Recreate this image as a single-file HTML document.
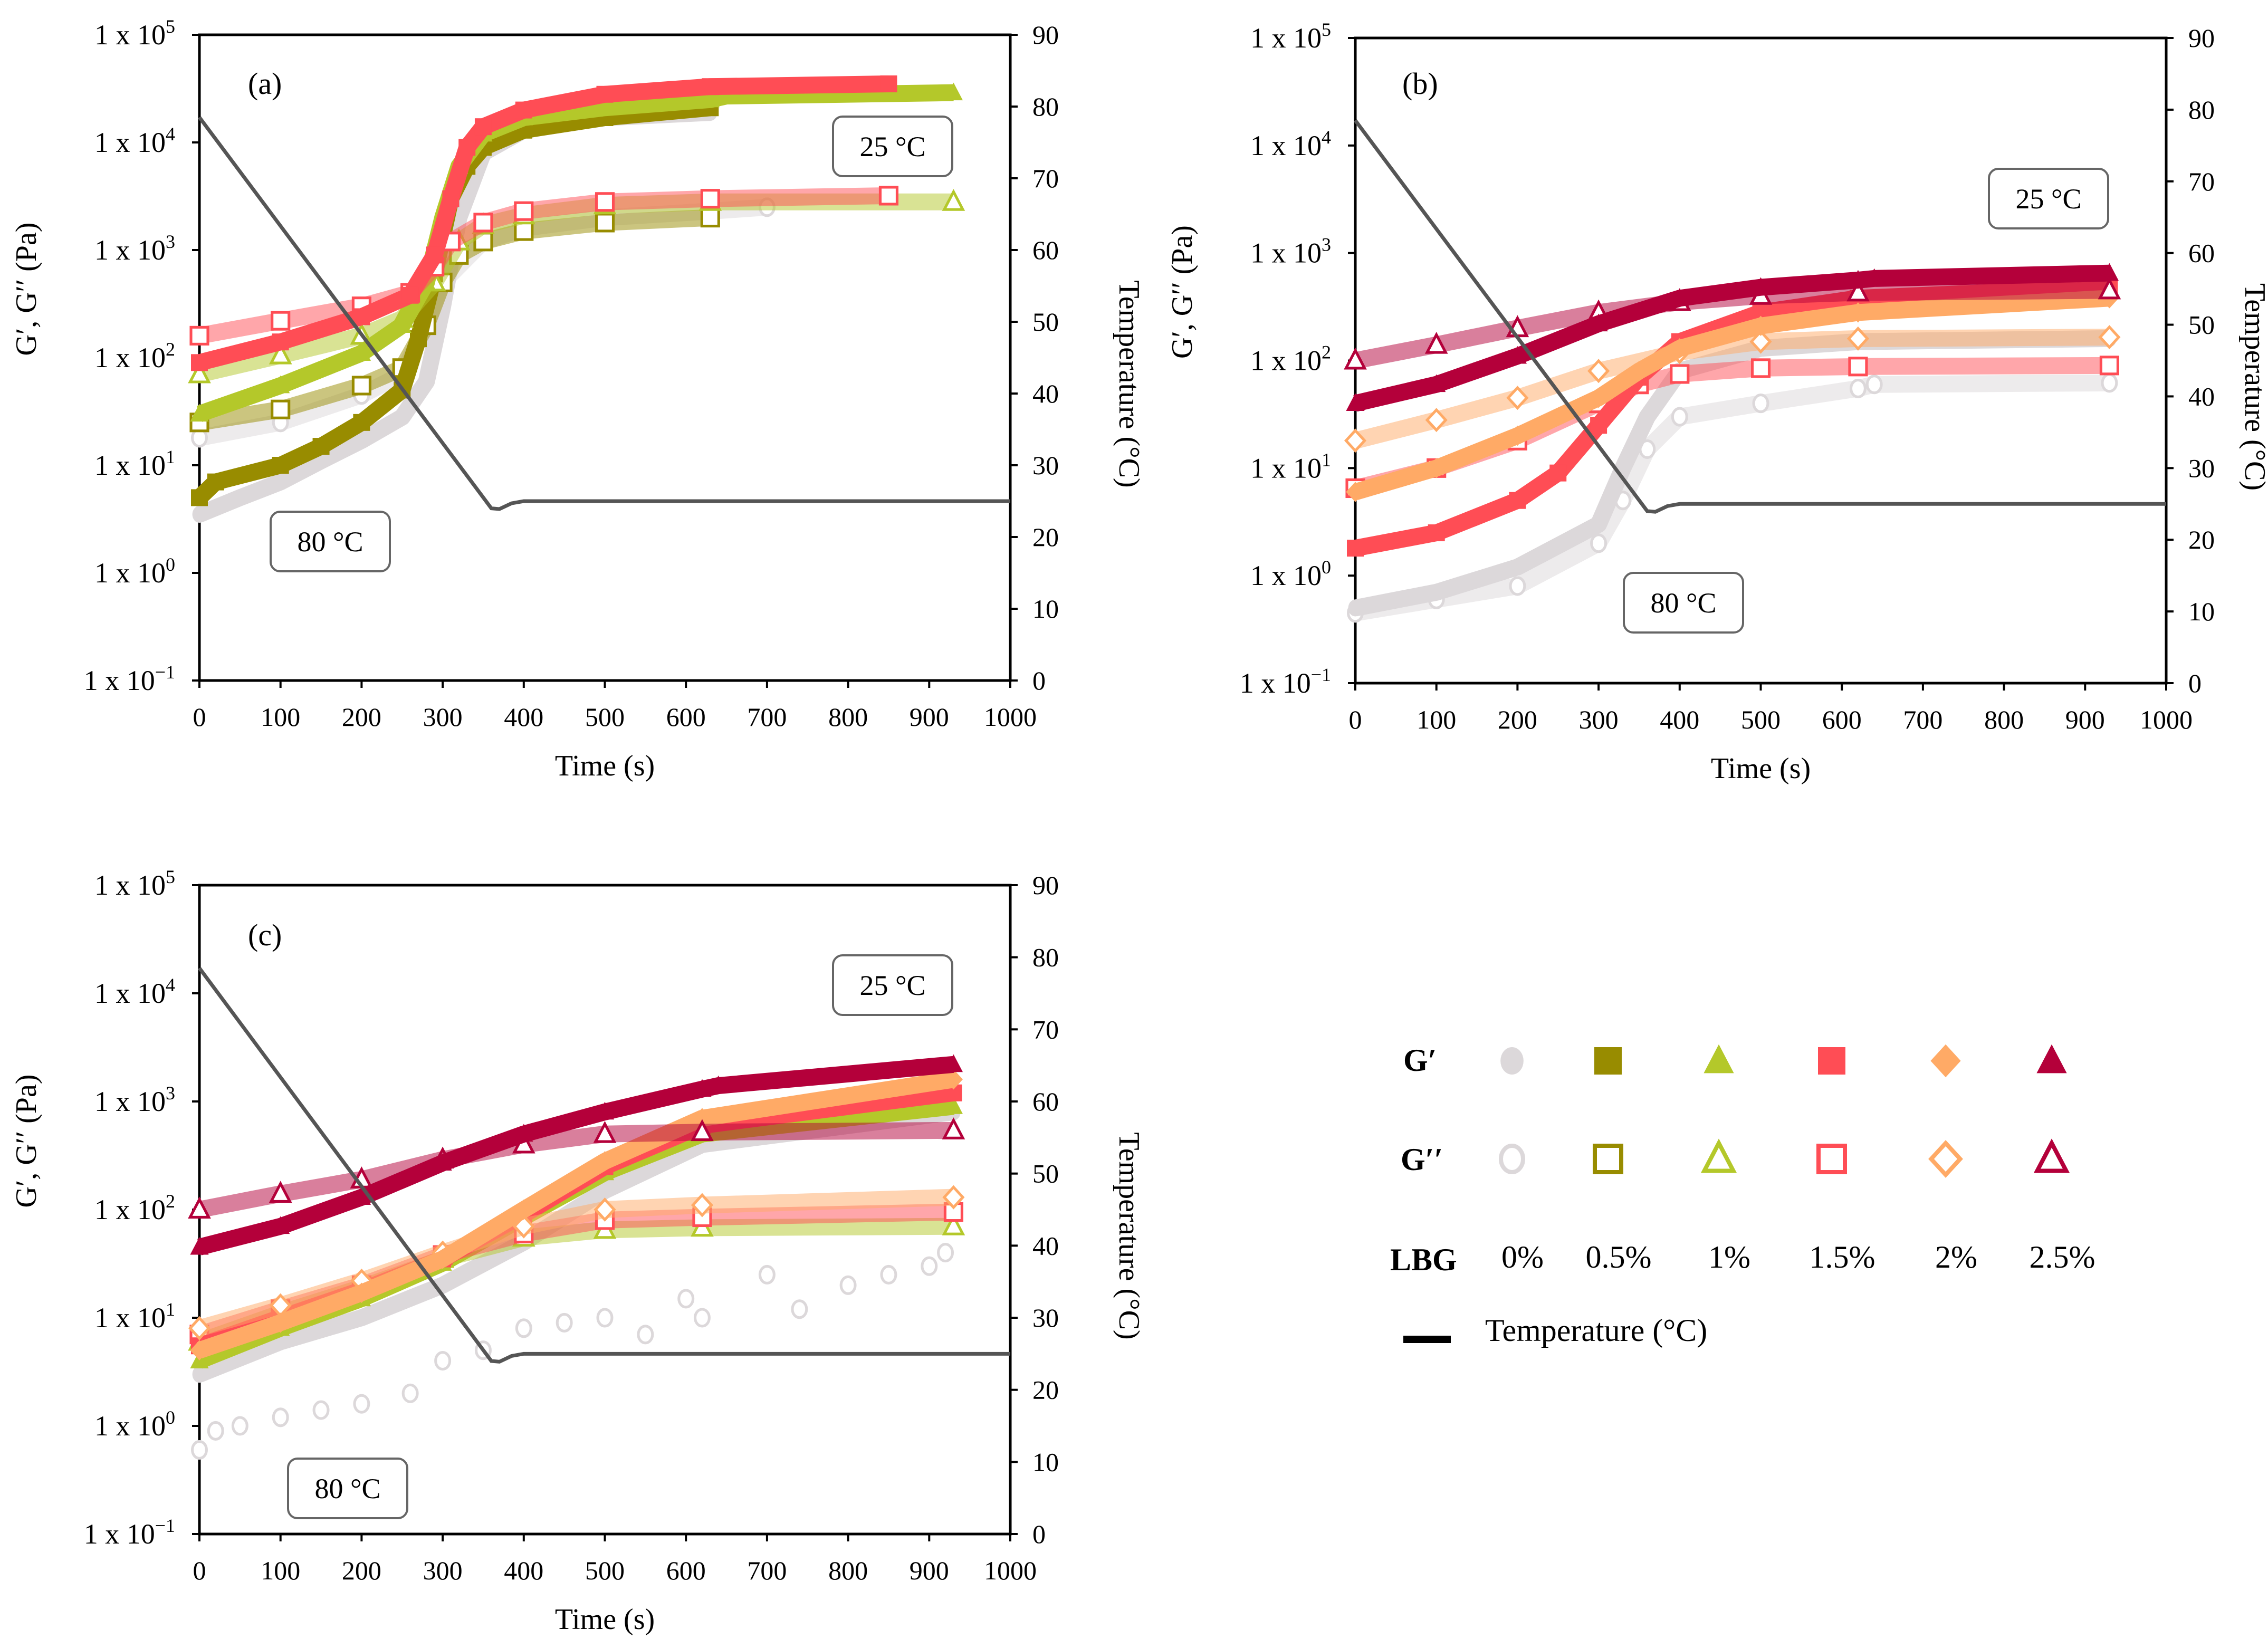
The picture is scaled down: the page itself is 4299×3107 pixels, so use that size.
<!DOCTYPE html>
<html><head><meta charset="utf-8">
<style>
html,body{margin:0;padding:0;background:#fff;}
svg{display:block;font-family:"Liberation Serif",serif;}
</style></head>
<body>
<svg id="fig" width="4299" height="3107" viewBox="0 0 4299 3107" xmlns="http://www.w3.org/2000/svg">
<rect x="0" y="0" width="4299" height="3107" fill="#fff"/>
<g id="legend"></g>
</svg>
<script>
// ---- shared data ----
const xTicks = [0,100,200,300,400,500,600,700,800,900,1000];
const yExps = [-1,0,1,2,3,4,5];
const tTicks = [0,10,20,30,40,50,60,70,80,90];
const tempTime = [0,360,370,385,400,1000];
const tempVal = [78.5,24,23.9,24.7,25,25];

// ---- panel (a) ----
const aTime_0G1 = [0,50,100,150,200,250,280,300,320,350,400,500,630];
const aVal_0G1 = [3.5,5,7,11,17,28,60,300,2000,8000,13000,17000,19000];
const aTime_0G2 = [0,100,200,250,280,300,350,400,500,630,700];
const aVal_0G2 = [18,25,45,70,200,500,1200,1600,2000,2300,2500];
const aTime_05G1 = [0,20,100,150,200,250,270,290,310,330,350,400,500,630];
const aVal_05G1 = [5,7,10,15,25,50,150,600,3000,6000,9000,13000,17000,21000];
const aTime_05G2 = [0,100,200,250,280,300,320,350,400,500,630];
const aVal_05G2 = [25,33,55,80,200,500,900,1200,1500,1800,2000];
const aTime_1G1 = [0,100,200,250,280,300,320,350,400,500,630,650,930];
const aVal_1G1 = [30,55,110,200,500,2000,6000,12000,17000,21000,25000,27000,29000];
const aTime_1G2 = [0,100,200,250,290,320,350,400,500,630,930];
const aVal_1G2 = [70,105,160,230,500,1200,1700,2100,2600,2800,2800];
const aTime_15G1 = [0,100,200,260,290,310,330,350,400,500,630,850];
const aVal_15G1 = [90,140,240,380,900,3000,9000,14000,20000,28000,33000,35000];
const aTime_15G2 = [0,100,200,260,290,310,350,400,500,630,850];
const aVal_15G2 = [160,220,300,400,700,1200,1800,2300,2800,3000,3200];

// ---- panel (b) ----
const bTime_0G1 = [0,100,200,300,330,360,400,500,620,930];
const bVal_0G1 = [0.5,0.7,1.2,3,10,30,80,130,150,160];
const bTime_0G2 = [0,100,200,300,330,360,400,500,620,640,930];
const bVal_0G2 = [0.45,0.6,0.8,2,5,15,30,40,55,60,62];
const bTime_15G1 = [0,100,200,250,300,350,400,500,620,930];
const bVal_15G1 = [1.8,2.5,5,9,25,70,150,280,380,480];
const bTime_15G2 = [0,100,200,300,350,400,500,620,930];
const bVal_15G2 = [6.5,10,18,40,60,75,85,88,90];
const bTime_2G1 = [0,100,200,300,350,400,500,620,930];
const bVal_2G1 = [6,10,20,45,80,130,210,280,380];
const bTime_2G2 = [0,100,200,300,400,500,620,930];
const bVal_2G2 = [18,28,45,80,120,150,160,165];
const bTime_25G1 = [0,100,200,300,400,500,620,640,930];
const bVal_25G1 = [40,60,110,220,380,480,560,580,650];
const bTime_25G2 = [0,100,200,300,400,500,620,930];
const bVal_25G2 = [100,140,200,280,350,400,430,450];

// ---- panel (c) ----
const cTime_0G1 = [0,100,200,300,400,500,620,930];
const cVal_0G1 = [3,6,10,20,50,150,400,800];
const cTime_0G2 = [0,20,50,100,150,200,260,300,350,400,450,500,550,600,620,700,740,800,850,900,920];
const cVal_0G2 = [0.6,0.9,1,1.2,1.4,1.6,2,4,5,8,9,10,7,15,10,25,12,20,25,30,40];
const cTime_1G1 = [0,100,200,300,400,500,620,930];
const cVal_1G1 = [4,8,15,32,85,220,500,900];
const cTime_1G2 = [0,100,200,300,400,500,620,930];
const cVal_1G2 = [6,11,19,35,55,65,68,70];
const cTime_15G1 = [0,100,200,300,400,500,620,930];
const cVal_15G1 = [5.5,10,18,35,90,250,600,1200];
const cTime_15G2 = [0,100,200,300,400,500,620,930];
const cVal_15G2 = [7,12,20,38,60,80,85,95];
const cTime_2G1 = [0,100,200,300,400,500,620,930];
const cVal_2G1 = [5,9,17,35,100,280,700,1600];
const cTime_2G2 = [0,100,200,300,400,500,620,930];
const cVal_2G2 = [8,13,22,40,70,100,110,130];
const cTime_25G1 = [0,100,200,300,400,500,620,640,930];
const cVal_25G1 = [45,70,130,270,500,800,1300,1400,2200];
const cTime_25G2 = [0,100,200,300,400,500,620,930];
const cVal_25G2 = [100,140,190,290,400,500,520,540];

const legendLabels = ["0%","0.5%","1%","1.5%","2%","2.5%"];

const COL = {c0:"#dcd8da", c05:"#988c00", c1:"#b4c82a", c15:"#ff4d55", c2:"#ffaa66", c25:"#b4003a"};
const SVGNS="http://www.w3.org/2000/svg";
const svg=document.getElementById('fig');
function mk(tag,attrs,parent){const e=document.createElementNS(SVGNS,tag);for(const k in attrs)e.setAttribute(k,attrs[k]);(parent||svg).appendChild(e);return e;}

function marker(g,shape,filled,color,x,y,s){
  const fill=filled?color:"#fff", sw=filled?0:s*0.16;
  let e;
  if(shape==="circle") e=mk('ellipse',{cx:x,cy:y,rx:s*0.42,ry:s*0.5,fill:fill,stroke:color,'stroke-width':sw},g);
  else if(shape==="square") e=mk('rect',{x:x-s*0.5,y:y-s*0.5,width:s,height:s,fill:fill,stroke:color,'stroke-width':sw},g);
  else if(shape==="tri") e=mk('polygon',{points:`${x},${y-s*0.6} ${x+s*0.55},${y+s*0.45} ${x-s*0.55},${y+s*0.45}`,fill:fill,stroke:color,'stroke-width':sw},g);
  else e=mk('polygon',{points:`${x},${y-s*0.6} ${x+s*0.55},${y} ${x},${y+s*0.6} ${x-s*0.55},${y}`,fill:fill,stroke:color,'stroke-width':sw},g);
  
  
  return e;
}

function panel(id,P,series,labels){
  const g=mk('g',{});
  
  
  const xs=t=>P.L+(t/1000)*(P.R-P.L);
  const ys=v=>P.B-((Math.log10(v)+1)/6)*(P.B-P.T);
  const yt=v=>P.B-(v/90)*(P.B-P.T);
  const ax=mk('rect',{x:P.L,y:P.T,width:P.R-P.L,height:P.B-P.T,fill:"none",stroke:"#000","stroke-width":5},g);
  
  xTicks.forEach(t=>{
    mk('line',{x1:xs(t),x2:xs(t),y1:P.B,y2:P.B+14,stroke:"#000","stroke-width":4},g);
    const tx=mk('text',{x:xs(t),y:P.B+86,'font-size':50,'text-anchor':'middle'},g);tx.textContent=t;
    
  });
  yExps.forEach(e=>{
    const y=ys(Math.pow(10,e));
    mk('line',{x1:P.L-14,x2:P.L,y1:y,y2:y,stroke:"#000","stroke-width":4},g);
    const tx=mk('text',{x:P.L-46,y:y+18,'font-size':54,'text-anchor':'end'},g);
    tx.innerHTML='1 x 10<tspan dy="-22" font-size="36">'+(e<0?'\u2212'+(-e):e)+'</tspan>';
    
  });
  tTicks.forEach(v=>{
    const y=yt(v);
    mk('line',{x1:P.R,x2:P.R+14,y1:y,y2:y,stroke:"#000","stroke-width":4},g);
    const tx=mk('text',{x:P.R+42,y:y+17,'font-size':50},g);tx.textContent=v;
    
  });
  let t=mk('text',{x:(P.L+P.R)/2,y:P.B+180,'font-size':56,'text-anchor':'middle'},g);t.textContent='Time (s)';
  
  t=mk('text',{x:0,y:0,'font-size':56,'text-anchor':'middle',transform:`translate(${P.L-310},${(P.T+P.B)/2-130}) rotate(-90)`},g);t.textContent='G\u2032, G\u2032\u2032 (Pa)';
  
  t=mk('text',{x:0,y:0,'font-size':56,'text-anchor':'middle',transform:`translate(${P.R+labels.tOff},${(P.T+P.B)/2+50}) rotate(90)`},g);t.textContent='Temperature (\u00b0C)';
  
  series.forEach(s=>{
    const sg=mk('g',{},g);
    
    const pts=s.t.map((tt,i)=>xs(tt)+','+ys(s.v[i])).join(' ');
    if(!s.scatter){
      const pl=mk('polyline',{points:pts,fill:'none',stroke:s.color,'stroke-width':32,'stroke-linejoin':'round','stroke-opacity':s.filled?1:0.5},sg);
      
    }
    s.t.forEach((tt,i)=>marker(sg,s.shape,s.filled,s.color,xs(tt),ys(s.v[i]),32));
  });
  const tl=mk('polyline',{points:tempTime.map((tt,i)=>xs(tt)+','+yt(tempVal[i])).join(' '),fill:'none',stroke:'#555','stroke-width':7},g);
  
  t=mk('text',{x:labels.lx,y:labels.ly,'font-size':58},g);t.textContent='('+id+')';
  
  [[labels.b25,'25 \u00b0C','box-25c'],[labels.b80,'80 \u00b0C','box-80c']].forEach(b=>{
    const bx=b[0][0], by=b[0][1];
    const r=mk('rect',{x:bx,y:by,width:226,height:113,rx:18,fill:'#fff',stroke:'#666','stroke-width':4},g);
    
    const tx=mk('text',{x:bx+113,y:by+75,'font-size':54,'text-anchor':'middle'},g);tx.textContent=b[1];
    
  });
}

panel('a',{L:378,R:1915,T:66,B:1290},[
 {name:'0-g2',t:aTime_0G2,v:aVal_0G2,shape:'circle',filled:false,color:COL.c0},
 {name:'0-g1',t:aTime_0G1,v:aVal_0G1,shape:'circle',filled:true,color:COL.c0},
 {name:'05-g2',t:aTime_05G2,v:aVal_05G2,shape:'square',filled:false,color:COL.c05},
 {name:'05-g1',t:aTime_05G1,v:aVal_05G1,shape:'square',filled:true,color:COL.c05},
 {name:'1-g2',t:aTime_1G2,v:aVal_1G2,shape:'tri',filled:false,color:COL.c1},
 {name:'1-g1',t:aTime_1G1,v:aVal_1G1,shape:'tri',filled:true,color:COL.c1},
 {name:'15-g2',t:aTime_15G2,v:aVal_15G2,shape:'square',filled:false,color:COL.c15},
 {name:'15-g1',t:aTime_15G1,v:aVal_15G1,shape:'square',filled:true,color:COL.c15}
],{lx:470,ly:178,tOff:207,b25:[1579,221],b80:[513,970]});

panel('b',{L:2569,R:4106,T:72,B:1295},[
 {name:'0-g2',t:bTime_0G2,v:bVal_0G2,shape:'circle',filled:false,color:COL.c0},
 {name:'0-g1',t:bTime_0G1,v:bVal_0G1,shape:'circle',filled:true,color:COL.c0},
 {name:'15-g2',t:bTime_15G2,v:bVal_15G2,shape:'square',filled:false,color:COL.c15},
 {name:'15-g1',t:bTime_15G1,v:bVal_15G1,shape:'square',filled:true,color:COL.c15},
 {name:'2-g2',t:bTime_2G2,v:bVal_2G2,shape:'diamond',filled:false,color:COL.c2},
 {name:'2-g1',t:bTime_2G1,v:bVal_2G1,shape:'diamond',filled:true,color:COL.c2},
 {name:'25-g2',t:bTime_25G2,v:bVal_25G2,shape:'tri',filled:false,color:COL.c25},
 {name:'25-g1',t:bTime_25G1,v:bVal_25G1,shape:'tri',filled:true,color:COL.c25}
],{lx:2658,ly:178,tOff:150,b25:[3770,320],b80:[3078,1086]});

panel('c',{L:378,R:1915,T:1678,B:2908},[
 {name:'0-g2',t:cTime_0G2,v:cVal_0G2,shape:'circle',filled:false,color:COL.c0,scatter:true},
 {name:'0-g1',t:cTime_0G1,v:cVal_0G1,shape:'circle',filled:true,color:COL.c0},
 {name:'1-g2',t:cTime_1G2,v:cVal_1G2,shape:'tri',filled:false,color:COL.c1},
 {name:'1-g1',t:cTime_1G1,v:cVal_1G1,shape:'tri',filled:true,color:COL.c1},
 {name:'15-g2',t:cTime_15G2,v:cVal_15G2,shape:'square',filled:false,color:COL.c15},
 {name:'15-g1',t:cTime_15G1,v:cVal_15G1,shape:'square',filled:true,color:COL.c15},
 {name:'2-g2',t:cTime_2G2,v:cVal_2G2,shape:'diamond',filled:false,color:COL.c2},
 {name:'2-g1',t:cTime_2G1,v:cVal_2G1,shape:'diamond',filled:true,color:COL.c2},
 {name:'25-g2',t:cTime_25G2,v:cVal_25G2,shape:'tri',filled:false,color:COL.c25},
 {name:'25-g1',t:cTime_25G1,v:cVal_25G1,shape:'tri',filled:true,color:COL.c25}
],{lx:470,ly:1792,tOff:207,b25:[1579,1811],b80:[546,2765]});

// legend
const lg=document.getElementById('legend');
const lx=[2866,3048,3258,3472,3688,3889];
const shapes=['circle','square','tri','square','diamond','tri'];
const cols=[COL.c0,COL.c05,COL.c1,COL.c15,COL.c2,COL.c25];
let t=mk('text',{x:2660,y:2030,'font-size':60,'font-weight':'bold'},lg);t.textContent='G\u2032';

t=mk('text',{x:2655,y:2218,'font-size':60,'font-weight':'bold'},lg);t.textContent='G\u2032\u2032';

t=mk('text',{x:2635,y:2408,'font-size':60,'font-weight':'bold'},lg);t.textContent='LBG';

lx.forEach((x,i)=>{
  marker(lg,shapes[i],true,cols[i],x,2011,52);
  marker(lg,shapes[i],false,cols[i],x,2197,50);
  const tx=mk('text',{x:x+20,y:2403,'font-size':60,'text-anchor':'middle'},lg);tx.textContent=legendLabels[i];
  
});
const ln=mk('line',{x1:2660,x2:2750,y1:2539,y2:2539,stroke:'#000','stroke-width':14},lg);

t=mk('text',{x:2815,y:2542,'font-size':60},lg);t.textContent='Temperature (\u00b0C)';

</script>
</body></html>
